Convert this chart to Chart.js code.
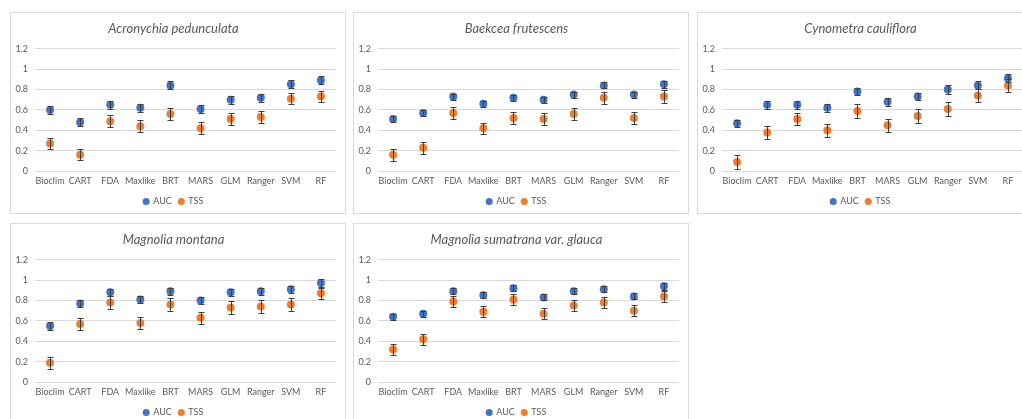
<!DOCTYPE html>
<html>
<head>
<meta charset="utf-8">
<script src="https://cdn.jsdelivr.net/npm/chart.js@4.4.1/dist/chart.umd.min.js"></script>
<style>
  body { margin: 0; background: #fff; overflow: hidden; width: 1022px; height: 419px; position: relative; }
  .panel { position: absolute; width: 336px; height: 202px; border: 1px solid #d9d9d9; box-sizing: border-box; background: #fff; }
  .panel canvas { position: absolute; left: 0; top: 0; }
</style>
</head>
<body>
<div class="panel" style="left:10px;top:12px"><canvas id="c0" width="334" height="200"></canvas></div>
<div class="panel" style="left:353px;top:12px"><canvas id="c1" width="334" height="200"></canvas></div>
<div class="panel" style="left:697px;top:12px"><canvas id="c2" width="334" height="200"></canvas></div>
<div class="panel" style="left:10px;top:223px"><canvas id="c3" width="334" height="200"></canvas></div>
<div class="panel" style="left:353px;top:223px"><canvas id="c4" width="334" height="200"></canvas></div>
<script>
var models = ['Bioclim', 'CART', 'FDA', 'Maxlike', 'BRT', 'MARS', 'GLM', 'Ranger', 'SVM', 'RF'];
var species = ['Acronychia pedunculata', 'Baekcea frutescens', 'Cynometra cauliflora', 'Magnolia montana', 'Magnolia sumatrana var. glauca'];

var acronychiaAuc = [0.60, 0.48, 0.65, 0.62, 0.84, 0.61, 0.70, 0.72, 0.85, 0.89];
var acronychiaAucErr = [0.04, 0.04, 0.04, 0.04, 0.04, 0.04, 0.04, 0.04, 0.04, 0.04];
var acronychiaTss = [0.27, 0.16, 0.49, 0.44, 0.56, 0.42, 0.51, 0.53, 0.71, 0.73];
var acronychiaTssErr = [0.052, 0.055, 0.058, 0.058, 0.055, 0.058, 0.058, 0.055, 0.055, 0.055];

var baekceaAuc = [0.51, 0.57, 0.73, 0.66, 0.72, 0.70, 0.75, 0.84, 0.75, 0.85];
var baekceaAucErr = [0.03, 0.03, 0.03, 0.03, 0.03, 0.03, 0.03, 0.03, 0.03, 0.035];
var baekceaTss = [0.16, 0.23, 0.57, 0.42, 0.52, 0.51, 0.56, 0.72, 0.52, 0.73];
var baekceaTssErr = [0.06, 0.06, 0.055, 0.055, 0.055, 0.06, 0.055, 0.06, 0.055, 0.06];

var cynometraAuc = [0.47, 0.65, 0.65, 0.62, 0.78, 0.68, 0.73, 0.80, 0.84, 0.91];
var cynometraAucErr = [0.035, 0.04, 0.04, 0.04, 0.035, 0.04, 0.035, 0.04, 0.04, 0.04];
var cynometraTss = [0.09, 0.38, 0.51, 0.40, 0.59, 0.45, 0.54, 0.61, 0.74, 0.84];
var cynometraTssErr = [0.065, 0.065, 0.06, 0.065, 0.065, 0.065, 0.065, 0.065, 0.065, 0.065];

var montanaAuc = [0.55, 0.77, 0.88, 0.81, 0.89, 0.80, 0.88, 0.89, 0.91, 0.97];
var montanaAucErr = [0.035, 0.035, 0.035, 0.035, 0.035, 0.035, 0.035, 0.035, 0.035, 0.04];
var montanaTss = [0.19, 0.57, 0.78, 0.58, 0.76, 0.63, 0.73, 0.74, 0.76, 0.87];
var montanaTssErr = [0.06, 0.06, 0.06, 0.06, 0.06, 0.06, 0.06, 0.06, 0.06, 0.055];

var sumatranaAuc = [0.64, 0.67, 0.89, 0.85, 0.92, 0.83, 0.89, 0.91, 0.84, 0.94];
var sumatranaAucErr = [0.03, 0.03, 0.03, 0.03, 0.03, 0.03, 0.03, 0.03, 0.03, 0.035];
var sumatranaTss = [0.32, 0.42, 0.79, 0.69, 0.81, 0.67, 0.75, 0.78, 0.70, 0.84];
var sumatranaTssErr = [0.055, 0.055, 0.055, 0.055, 0.055, 0.055, 0.055, 0.055, 0.055, 0.055];

var aucSets = [acronychiaAuc, baekceaAuc, cynometraAuc, montanaAuc, sumatranaAuc];
var aucErrSets = [acronychiaAucErr, baekceaAucErr, cynometraAucErr, montanaAucErr, sumatranaAucErr];
var tssSets = [acronychiaTss, baekceaTss, cynometraTss, montanaTss, sumatranaTss];
var tssErrSets = [acronychiaTssErr, baekceaTssErr, cynometraTssErr, montanaTssErr, sumatranaTssErr];

var textColor = '#595959';
var fontFam = "Lato, 'Open Sans', sans-serif";

// Excel style error bars, drawn on top of the markers
var errorBars = {
  id: 'errorBars',
  afterDatasetsDraw: function(chart) {
    var ctx = chart.ctx, y = chart.scales.y;
    ctx.save();
    ctx.strokeStyle = '#3f3f3f';
    ctx.lineWidth = 1;
    chart.data.datasets.forEach(function(ds, i) {
      var meta = chart.getDatasetMeta(i);
      meta.data.forEach(function(pt, j) {
        var v = ds.data[j], e = ds.errors[j];
        var x = Math.round(pt.x) + 0.5;
        var top = Math.round(y.getPixelForValue(v + e)) + 0.5;
        var bot = Math.round(y.getPixelForValue(v - e)) + 0.5;
        ctx.beginPath();
        ctx.moveTo(x, top); ctx.lineTo(x, bot);
        ctx.moveTo(x - 3, top); ctx.lineTo(x + 3, top);
        ctx.moveTo(x - 3, bot); ctx.lineTo(x + 3, bot);
        ctx.stroke();
      });
    });
    ctx.restore();
  }
};

for (var k = 0; k < species.length; k++) {
  new Chart(document.getElementById('c' + k), {
    type: 'line',
    data: {
      labels: models,
      datasets: [
        {
          label: 'AUC',
          data: aucSets[k],
          errors: aucErrSets[k],
          showLine: false,
          pointRadius: 4,
          pointBorderWidth: 0,
          pointBackgroundColor: '#4472C4',
          pointBorderColor: '#4472C4',
          backgroundColor: '#4472C4',
          borderColor: '#4472C4'
        },
        {
          label: 'TSS',
          data: tssSets[k],
          errors: tssErrSets[k],
          showLine: false,
          pointRadius: 4,
          pointBorderWidth: 0,
          pointBackgroundColor: '#ED7D31',
          pointBorderColor: '#ED7D31',
          backgroundColor: '#ED7D31',
          borderColor: '#ED7D31'
        }
      ]
    },
    options: {
      responsive: false,
      animation: false,
      devicePixelRatio: 1,
      layout: { padding: { left: 0, right: 9, top: 0, bottom: -3 } },
      plugins: {
        title: {
          display: true,
          text: species[k],
          color: textColor,
          font: { family: fontFam, size: 13, style: 'italic', weight: 'normal' },
          padding: { top: 8, bottom: 12 }
        },
        legend: {
          position: 'bottom',
          labels: {
            usePointStyle: true,
            pointStyle: 'circle',
            boxWidth: 5,
            boxHeight: 5,
            padding: 7,
            color: textColor,
            font: { family: fontFam, size: 9 }
          }
        },
        tooltip: { enabled: false }
      },
      scales: {
        x: {
          offset: true,
          grid: { display: false, drawTicks: false },
          border: { display: false },
          ticks: { color: textColor, font: { family: fontFam, size: 9 }, maxRotation: 0, autoSkip: false, padding: 4 }
        },
        y: {
          min: 0,
          max: 1.2,
          afterFit: function(scale) { scale.width = 24; },
          grid: { color: '#d9d9d9', drawTicks: false },
          border: { display: false },
          ticks: {
            stepSize: 0.2,
            color: textColor,
            font: { family: fontFam, size: 9 },
            padding: 7,
            callback: function(v) { return String(Math.round(v * 10) / 10); }
          }
        }
      }
    },
    plugins: [errorBars]
  });
}
</script>
</body>
</html>
